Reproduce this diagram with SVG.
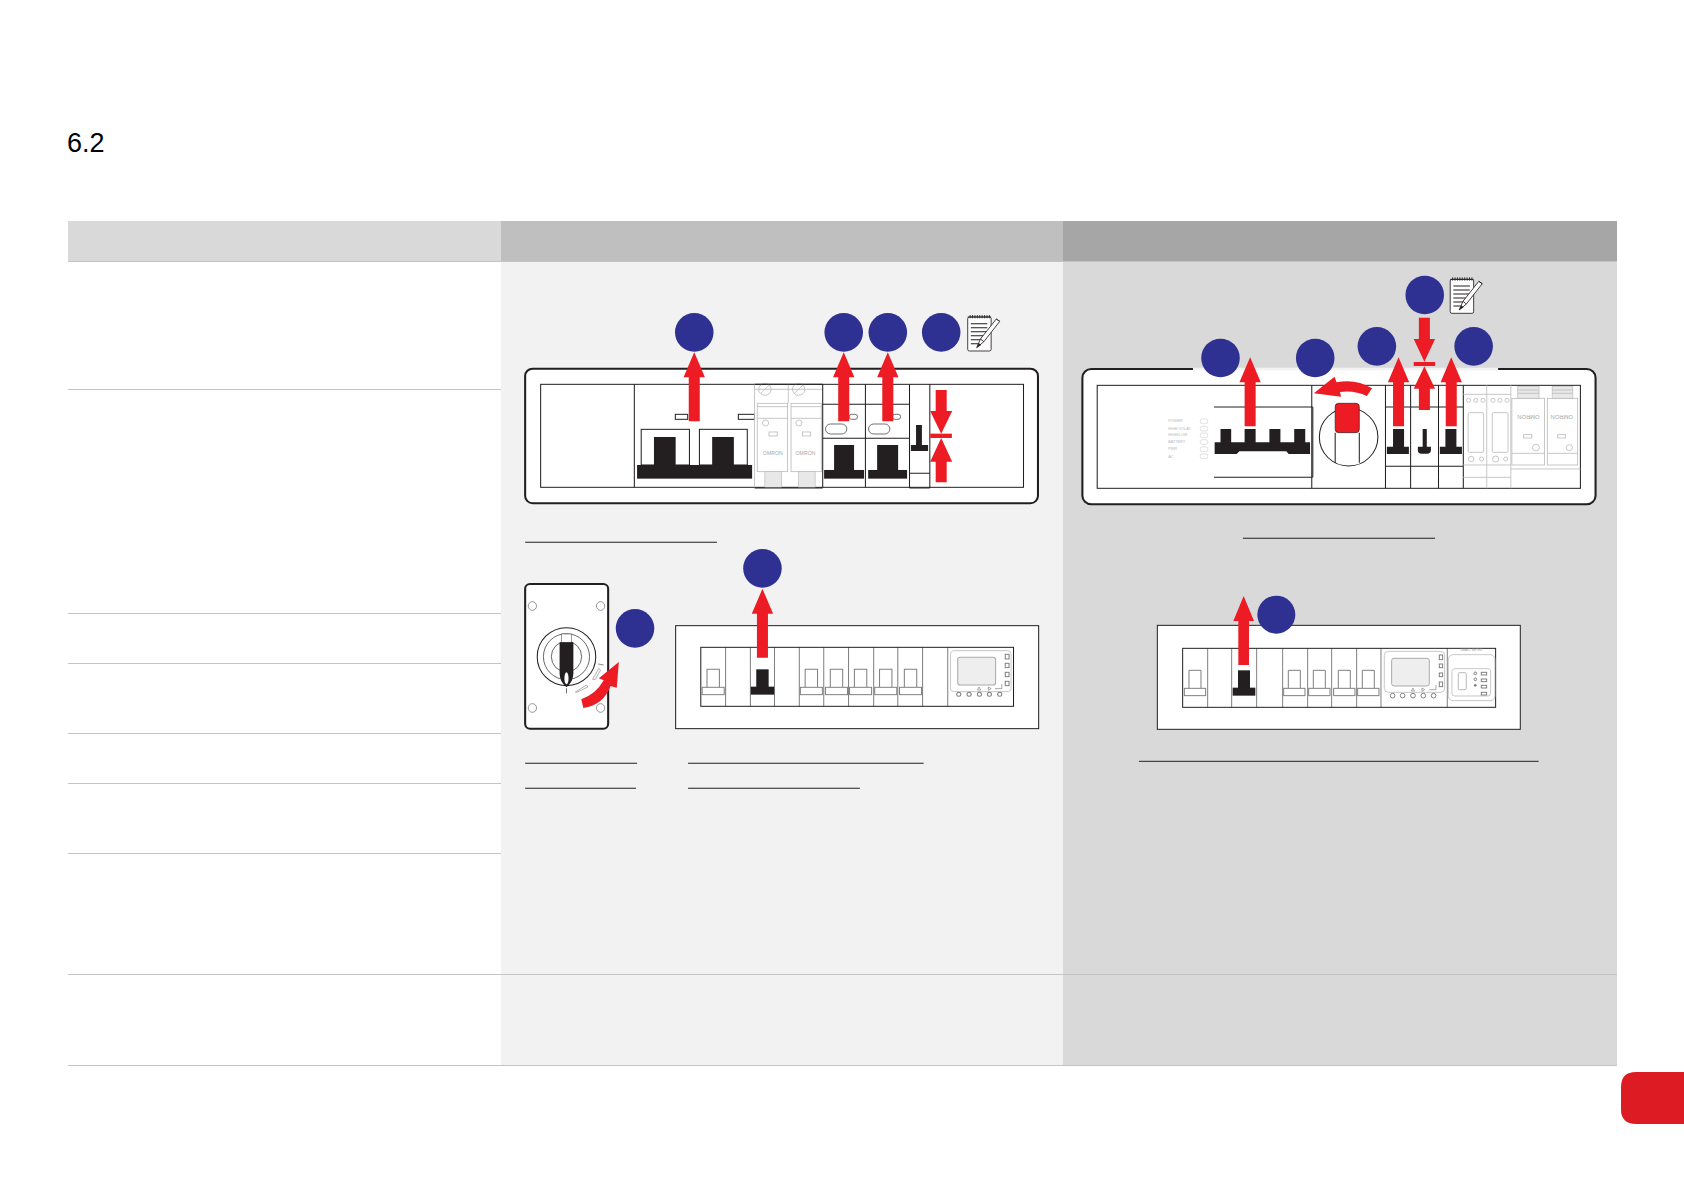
<svg xmlns="http://www.w3.org/2000/svg" xmlns:xlink="http://www.w3.org/1999/xlink" width="1684" height="1190" viewBox="0 0 1684 1190">
<style>
.k{fill:none;stroke:#231f20;stroke-width:3}
.th{fill:none;stroke:#231f20;stroke-width:2}
.ol{fill:#fff;stroke:#231f20;stroke-width:6}
.w{fill:#fff;stroke:#231f20;stroke-width:3}
.b{fill:#231f20}
.r{fill:#ed1c24}
.c{fill:#2e3192}
.g{fill:none;stroke:#bdbdbd;stroke-width:2.5}
.p{fill:none;stroke:#d4d4d4;stroke-width:2}
.gf{fill:#e8e8e8;stroke:#bdbdbd;stroke-width:2}
.m{fill:none;stroke:#808080;stroke-width:3}
.mf{fill:#fff;stroke:#808080;stroke-width:3}
.lt{fill:#a8a8a8;font-family:"Liberation Sans",Arial,sans-serif;font-size:15px}
.tl{stroke:#c4c4c4;stroke-width:1.2}
.u{stroke:#231f20;stroke-width:3}
</style>
<defs>
<path id="up" d="M0 0L31 75L16 75L16 207L-16 207L-16 75L-31 75Z"/>
<g id="note">
<rect x="1" y="6" width="68" height="102" rx="5" fill="#fff" stroke="#231f20" stroke-width="2.5"/>
<path d="M8 0v10M15 0v10M22 0v10M29 0v10M36 0v10M43 0v10M50 0v10M57 0v10M64 0v10M1 6h68" stroke="#231f20" stroke-width="2.5" fill="none"/>
<path d="M10 26h48M10 38h48M10 50h48M10 62h40M10 74h30M10 86h22" stroke="#231f20" stroke-width="3" fill="none"/>
<path d="M27 98L38 72L84 12L94 19L48 80Z" fill="#fff" stroke="#231f20" stroke-width="2.5"/>
<path d="M27 98L33 84L40 90Z" fill="#231f20"/>
<path d="M38 72L48 80M84 12L94 19" stroke="#231f20" stroke-width="2.5" fill="none"/>
</g>
<g id="mb">
<path d="M-18 0V-54H18V0" class="m"/>
<rect x="-32" y="0" width="64" height="22" class="mf"/>
</g>
<g id="bb">
<rect x="-18" y="0" width="36" height="54" class="b"/>
<rect x="-34" y="52" width="68" height="24" class="b"/>
</g>
</defs>

<rect id="page" width="1684" height="1190" fill="#fff"/>
<text id="title" x="67" y="152" font-family="Liberation Sans,Arial,sans-serif" font-size="27" fill="#000">6.2</text>

<g id="table">
<rect x="68" y="221" width="433" height="40" fill="#d9d9d9"/>
<rect x="501" y="221" width="562" height="40" fill="#bfbfbf"/>
<rect x="1063" y="221" width="554" height="40" fill="#a6a6a6"/>
<rect x="501" y="261" width="562" height="804" fill="#f2f2f2"/>
<rect x="1063" y="261" width="554" height="804" fill="#d9d9d9"/>
<path class="tl" fill="none" d="M68 261.500H1617M68 389.500H501M68 613.500H501M68 663.500H501M68 733.500H501M68 783.500H501M68 853.500H501M68 974.500H1617M68 1065.500H1617"/>
</g>
<path id="tab" d="M1684 1072H1636Q1621 1072 1621 1087V1109Q1621 1124 1636 1124H1684Z" fill="#dc1c22"/>

<g id="panel-a" transform="translate(510 290) scale(.3444 .3333)">
<rect x="44" y="236" width="1489" height="404" rx="22" class="ol"/>
<rect x="89" y="283" width="1402" height="309" class="k"/>
<path class="k" d="M361 283V592M1032 283V592M1160 283V594M1219 283V594"/>
<rect x="480" y="373" width="36" height="15" class="k" stroke-width="2"/>
<rect x="663" y="373" width="47" height="15" class="k"/>
<rect x="381" y="418" width="140" height="107" class="k"/>
<rect x="550" y="418" width="139" height="107" class="k"/>
<rect x="418" y="441" width="63" height="90" class="b"/>
<rect x="587" y="441" width="63" height="90" class="b"/>
<rect x="369" y="525" width="334" height="41" class="b"/>
<g id="omron-a">
<path class="g" d="M710 283V592M808 283V340M710 298H908"/>
<circle cx="740" cy="298" r="18" fill="#fff" class="g"/><circle cx="838" cy="298" r="18" fill="#fff" class="g"/>
<path class="g" d="M728 310L752 286M826 310L850 286"/>
<rect x="718" y="340" width="88" height="205" class="g"/><rect x="816" y="340" width="88" height="205" class="g"/>
<path class="g" d="M718 350H806M816 350H904M718 385H806M816 385H904"/>
<circle cx="742" cy="399" r="9" class="g"/><circle cx="839" cy="399" r="9" class="g"/>
<rect x="752" y="426" width="24" height="12" class="g"/><rect x="849" y="426" width="24" height="12" class="g"/>
<text x="763" y="494" text-anchor="middle" class="lt">OMRON</text>
<text x="858" y="494" text-anchor="middle" class="lt">OMRON</text>
<rect x="740" y="545" width="48" height="47" class="gf"/><rect x="838" y="545" width="48" height="47" class="gf"/>
<path class="k" d="M710 594H908M908 283V592M710 283H908"/>
</g>
<path class="k" d="M908 343H1160M908 445H1160M1160 550H1219"/>
<path class="k" stroke-width="4" d="M1160 594H1219"/>
<rect x="916" y="402" width="62" height="30" rx="15" fill="#fff" stroke="#555" stroke-width="2.500"/>
<rect x="985" y="373" width="24" height="15" rx="7" fill="#fff" stroke="#555" stroke-width="2.500"/>
<rect x="1041" y="402" width="62" height="30" rx="15" fill="#fff" stroke="#555" stroke-width="2.500"/>
<rect x="1110" y="373" width="24" height="15" rx="7" fill="#fff" stroke="#555" stroke-width="2.500"/>
<rect x="941" y="465" width="58" height="80" class="b"/><rect x="912" y="540" width="116" height="26" class="b"/>
<rect x="1066" y="465" width="61" height="80" class="b"/><rect x="1040" y="540" width="113" height="26" class="b"/>
<rect x="1179" y="405" width="17" height="65" class="b"/><rect x="1164" y="465" width="50" height="18" class="b"/>
<use xlink:href="#up" href="#up" class="r" x="535" y="187"/>
<use xlink:href="#up" href="#up" class="r" x="969" y="187"/>
<use xlink:href="#up" href="#up" class="r" x="1097" y="187"/>
<path class="r" d="M1236 300H1268V363H1284L1252 431L1220 363H1236Z"/>
<rect x="1220" y="431" width="63" height="13" class="r"/>
<path class="r" d="M1252 444L1284 515H1268V577H1236V515H1220Z"/>
<path class="u" d="M44 757H601"/>
<ellipse cx="535" cy="127" rx="56" ry="58" class="c"/><ellipse cx="969" cy="127" rx="56" ry="58" class="c"/><ellipse cx="1097" cy="127" rx="56" ry="58" class="c"/><ellipse cx="1252" cy="127" rx="56" ry="58" class="c"/>
<use xlink:href="#note" href="#note" x="1328" y="75"/>
</g>

<g id="panel-b" transform="translate(1070 260) scale(.3444 .3333)">
<rect x="36" y="327" width="1490" height="406" rx="26" class="ol"/>
<path d="M357 327H1243" stroke="#f2f2f2" stroke-width="7"/>
<rect x="79" y="376" width="1403" height="309" class="k"/>
<path class="k" d="M702 376V685M916 376V685M989 376V685M1070 376V685M1142 376V685M418 441H705M418 652H705M916 441H1142M916 619H1142"/>
<path class="k" stroke-width="4" d="M705 441V652"/>
<g id="labels-b" fill="#b5b5b5" font-family="Liberation Sans,Arial,sans-serif" font-size="11">
<text x="285" y="486">POWER</text><text x="285" y="509">HIGH VOLAT</text><text x="285" y="529">HIGH/LOW</text><text x="285" y="549">BATTERY</text><text x="285" y="570">PWR</text><text x="285" y="593">AC</text>
</g>
<g>
<rect x="378" y="477" width="22" height="14" rx="6" class="p"/><rect x="378" y="499" width="22" height="14" rx="6" class="p"/><rect x="378" y="519" width="22" height="14" rx="6" class="p"/><rect x="378" y="539" width="22" height="14" rx="6" class="p"/><rect x="378" y="561" width="22" height="14" rx="6" class="p"/><rect x="378" y="582" width="22" height="14" rx="6" class="p"/>
</g>
<path class="b" d="M437 507H468V547H507V507H539V547H579V507H611V547H651V507H683V547H697V582H635L628 574H492L484 582H420V547H437Z"/>
<ellipse cx="809" cy="531" rx="85" ry="87" class="k"/>
<path class="k" d="M770 518V608M840 518V608"/>
<rect x="770" y="430" width="70" height="88" rx="10" class="r" stroke="#231f20" stroke-width="2"/>
<path class="b" d="M938 507H970V560H984V582H920V560H938Z"/>
<path class="b" d="M1090 507H1122V560H1138V582H1074V560H1090Z"/>
<path class="b" d="M1024 507H1036V560H1048V570Q1048 581 1037 581H1021Q1010 581 1010 570V560H1024Z"/>
<g id="modules-b">
<path class="g" d="M1142 403H1280M1142 615H1280M1142 652H1280M1210 376V685M1280 376V685"/>
<circle cx="1157" cy="421" r="6" class="g"/><circle cx="1178" cy="421" r="6" class="g"/><circle cx="1199" cy="421" r="6" class="g"/><circle cx="1228" cy="421" r="6" class="g"/><circle cx="1248" cy="421" r="6" class="g"/><circle cx="1269" cy="421" r="6" class="g"/>
<rect x="1156" y="458" width="45" height="119" rx="4" class="g"/><rect x="1226" y="458" width="46" height="119" rx="4" class="g"/>
<circle cx="1165" cy="597" r="8" class="g"/><circle cx="1195" cy="597" r="6" class="g"/><circle cx="1236" cy="597" r="9" class="g"/><circle cx="1265" cy="597" r="6" class="g"/>
<rect x="1300" y="380" width="62" height="35" class="gf"/><rect x="1400" y="380" width="60" height="35" class="gf"/>
<path class="g" d="M1300 390H1362M1300 400H1362M1400 390H1460M1400 400H1460"/>
<rect x="1283" y="415" width="95" height="200" class="g"/><rect x="1386" y="415" width="88" height="200" class="g"/>
<path class="g" d="M1283 580H1378M1386 580H1474M1280 627H1482"/>
<text transform="rotate(180 1331 472)" x="1331" y="478" text-anchor="middle" class="lt" style="font-size:17px">OMRON</text>
<text transform="rotate(180 1428 472)" x="1428" y="478" text-anchor="middle" class="lt" style="font-size:17px">OMRON</text>
<rect x="1317" y="524" width="24" height="10" class="g"/><rect x="1416" y="524" width="23" height="10" class="g"/>
<circle cx="1353" cy="563" r="10" class="g"/><circle cx="1450" cy="563" r="9" class="g"/>
</g>
<use xlink:href="#up" href="#up" class="r" x="523" y="292"/>
<use xlink:href="#up" href="#up" class="r" x="954" y="292"/>
<use xlink:href="#up" href="#up" class="r" x="1107" y="292"/>
<path class="r" d="M708 400L768 350L774 367Q830 355 877 385L862 408Q825 390 784 396L787 410Z"/>
<path class="r" d="M1013 173H1045V237H1060L1029 305L998 237H1013Z"/>
<rect x="998" y="306" width="62" height="12" class="r"/>
<path class="r" d="M1029 319L1060 386H1045V450H1013V386H998Z"/>
<path class="u" d="M502 835H1060"/>
<ellipse cx="437" cy="294" rx="56" ry="58" class="c"/><ellipse cx="712" cy="294" rx="56" ry="58" class="c"/><ellipse cx="891" cy="259" rx="56" ry="58" class="c"/><ellipse cx="1172" cy="259" rx="56" ry="58" class="c"/><ellipse cx="1030" cy="105" rx="56" ry="58" class="c"/>
<use xlink:href="#note" href="#note" x="1103" y="52"/>
</g>

<g id="panel-c" transform="translate(510 540) scale(.3444 .3333)">
<g id="switch">
<rect x="44" y="132" width="241" height="434" rx="14" class="ol"/>
<ellipse cx="65" cy="198" rx="12" ry="13" fill="#fff" stroke="#666" stroke-width="2"/><ellipse cx="263" cy="198" rx="12" ry="13" fill="#fff" stroke="#666" stroke-width="2"/><ellipse cx="65" cy="504" rx="12" ry="13" fill="#fff" stroke="#666" stroke-width="2"/>
<ellipse cx="164" cy="350" rx="85" ry="87" class="k" stroke-width="4"/><ellipse cx="164" cy="350" rx="67" ry="69" class="th"/><ellipse cx="164" cy="350" rx="44" ry="46" class="th"/>
<rect x="149" y="282" width="29" height="25" fill="#fff" stroke="#666" stroke-width="2"/>
<path class="b" d="M144 307H184V400Q184 425 164 442Q144 425 144 400Z"/>
<ellipse cx="164" cy="415" rx="6" ry="18" fill="#fff"/>
<path class="th" d="M164 445V460"/>
<path d="M190 456L222 435L226 441L196 456Z" fill="#fff" stroke="#888" stroke-width="2"/>
<path d="M240 418L258 385L263 390L248 418Z" fill="#fff" stroke="#888" stroke-width="2"/>
<path d="M256 372L272 375" stroke="#555" stroke-width="2"/>
<ellipse cx="263" cy="504" rx="12" ry="13" fill="#fff" stroke="#666" stroke-width="2"/>
<path class="r" d="M207 478L213 504Q272 495 292 438L310 443L316 366L258 415L272 421Q250 462 207 478Z"/>
</g>
<rect x="481" y="257" width="1054" height="309" class="w"/>
<rect x="554" y="322" width="908" height="177" fill="#fff"/>
<path class="m" d="M626 322V499M698 322V499M768 322V499M840 322V499M911 322V499M983 322V499M1056 322V499M1126 322V499M1198 322V499M1271 322V499"/>
<rect x="554" y="322" width="908" height="177" class="k"/>
<use xlink:href="#mb" href="#mb" x="590" y="442"/><use xlink:href="#mb" href="#mb" x="875" y="442"/><use xlink:href="#mb" href="#mb" x="948" y="442"/><use xlink:href="#mb" href="#mb" x="1018" y="442"/><use xlink:href="#mb" href="#mb" x="1091" y="442"/><use xlink:href="#mb" href="#mb" x="1163" y="442"/>
<use xlink:href="#bb" href="#bb" x="733" y="388"/>
<g id="timer-c">
<rect x="1279" y="332" width="176" height="123" rx="12" class="g"/>
<rect x="1300" y="352" width="110" height="83" rx="7" fill="#eee" stroke="#aaa" stroke-width="3"/>
<rect x="1438" y="343" width="11" height="14" class="m"/><rect x="1438" y="370" width="11" height="13" class="m"/><rect x="1438" y="397" width="11" height="13" class="m"/><rect x="1438" y="424" width="11" height="13" class="m"/>
<circle cx="1303" cy="463" r="6" class="m" stroke-width="2"/><circle cx="1333" cy="463" r="6" class="m" stroke-width="2"/><circle cx="1363" cy="463" r="6" class="m" stroke-width="2"/><circle cx="1392" cy="463" r="6" class="m" stroke-width="2"/><circle cx="1422" cy="463" r="6" class="m" stroke-width="2"/>
<path d="M1362 441l5 9h-10ZM1389 441l8 5l-8 5ZM1408 446h20v-14" fill="none" stroke="#808080" stroke-width="2"/>
</g>
<use xlink:href="#up" href="#up" class="r" x="733" y="146"/>
<path class="u" d="M44 670H369M44 745H366M517 670H1201M517 745H1016"/>
<ellipse cx="363" cy="265" rx="56" ry="58" class="c"/><ellipse cx="733" cy="85" rx="56" ry="58" class="c"/>
</g>

<g id="panel-d" transform="translate(1130 580) scale(.3333)">
<rect x="82" y="136" width="1089" height="312" class="w"/>
<rect x="158" y="205" width="939" height="177" fill="#fff"/>
<path class="m" d="M233 205V382M305 205V382M380 205V382M458 205V382M533 205V382M605 205V382M680 205V382M952 205V382"/>
<path class="m" stroke-width="5" d="M753 205V382"/>
<rect x="158" y="205" width="939" height="177" class="k"/>
<use xlink:href="#mb" href="#mb" x="195" y="325"/><use xlink:href="#mb" href="#mb" x="493" y="325"/><use xlink:href="#mb" href="#mb" x="568" y="325"/><use xlink:href="#mb" href="#mb" x="643" y="325"/><use xlink:href="#mb" href="#mb" x="715" y="325"/>
<use xlink:href="#bb" href="#bb" x="342" y="271"/>
<g id="timer-d">
<rect x="763" y="214" width="181" height="123" rx="12" class="g"/>
<rect x="785" y="235" width="113" height="83" rx="7" fill="#eee" stroke="#aaa" stroke-width="3"/>
<rect x="928" y="225" width="10" height="14" class="m"/><rect x="928" y="252" width="10" height="11" class="m"/><rect x="928" y="279" width="10" height="11" class="m"/><rect x="928" y="306" width="10" height="14" class="m"/>
<circle cx="788" cy="347" r="7" class="m" stroke-width="2"/><circle cx="818" cy="347" r="7" class="m" stroke-width="2"/><circle cx="849" cy="347" r="7" class="m" stroke-width="2"/><circle cx="880" cy="347" r="7" class="m" stroke-width="2"/><circle cx="911" cy="347" r="7" class="m" stroke-width="2"/>
<path d="M849 324l5 9h-10ZM876 324l8 5l-8 5ZM898 329h20v-14" fill="none" stroke="#808080" stroke-width="2"/>
</g>
<g id="meter-d">
<text x="1024" y="214" text-anchor="middle" fill="#999" font-family="Liberation Sans,Arial,sans-serif" font-size="9">SMART METER</text>
<rect x="955" y="224" width="140" height="138" rx="14" class="g" stroke-width="2"/>
<rect x="966" y="266" width="116" height="82" rx="8" class="g" stroke-width="2"/>
<rect x="985" y="278" width="24" height="51" rx="3" fill="#fff" stroke="#999" stroke-width="2"/>
<rect x="1054" y="277" width="16" height="8" class="m" stroke-width="2"/><rect x="1054" y="297" width="16" height="8" class="m" stroke-width="2"/><rect x="1054" y="316" width="16" height="8" class="m" stroke-width="2"/><rect x="1054" y="337" width="16" height="8" class="m" stroke-width="2"/>
<circle cx="1036" cy="280" r="4" class="m" stroke-width="2"/><circle cx="1036" cy="298" r="4" class="m" stroke-width="2"/><circle cx="1036" cy="316" r="4" fill="#808080"/>
</g>
<use xlink:href="#up" href="#up" class="r" x="341" y="48"/>
<path class="u" d="M27 544H1226"/>
<circle cx="439" cy="104" r="57" class="c"/>
</g>
</svg>
